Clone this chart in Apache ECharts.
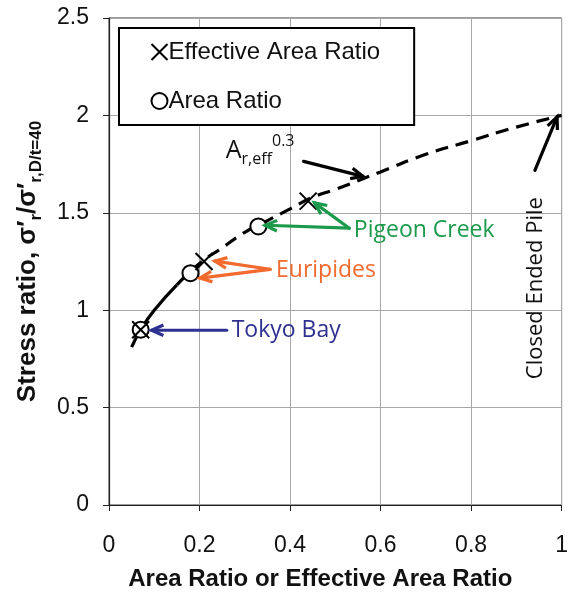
<!DOCTYPE html>
<html>
<head>
<meta charset="utf-8">
<script src="https://cdn.jsdelivr.net/npm/echarts@6/dist/echarts.min.js"></script>
<style>
  html, body { margin: 0; padding: 0; background: #fff; }
  #chart { width: 571px; height: 598px; }
</style>
</head>
<body>
<div id="chart"></div>
<script>
// Stress ratio curve (A_r,eff^0.3) read along its length
const curveSolidX = [0.05, 0.07, 0.10, 0.15];
const curveSolidY = [0.81, 0.90, 1.00, 1.13];
const curveDashX = [0.15, 0.20, 0.25, 0.30, 0.35, 0.40, 0.45, 0.50, 0.60, 0.70, 0.80, 0.90, 1.00];
const curveDashY = [1.13, 1.24, 1.32, 1.40, 1.46, 1.52, 1.58, 1.62, 1.71, 1.80, 1.87, 1.94, 2.00];

// Case histories: Tokyo Bay, Euripides, Pigeon Creek
const effAreaX = [0.07, 0.21, 0.44];
const effAreaY = [0.90, 1.25, 1.56];
const areaX = [0.07, 0.18, 0.33];
const areaY = [0.90, 1.19, 1.43];

// Axis ticks
const xTicks = [0, 0.2, 0.4, 0.6, 0.8, 1];
const yTicks = [0, 0.5, 1, 1.5, 2, 2.5];

// Callout arrows: [fromX, fromY, toX, toY, colour index]
const arrowColors = ['#2e3192', '#f26a2e', '#1b9a4b', '#000000'];
const arrows = [
  [0.260, 0.897, 0.094, 0.897, 0],
  [0.356, 1.210, 0.234, 1.252, 1],
  [0.356, 1.210, 0.201, 1.165, 1],
  [0.531, 1.421, 0.454, 1.551, 2],
  [0.531, 1.421, 0.345, 1.436, 2],
  [0.430, 1.764, 0.561, 1.687, 3],
  [0.941, 1.718, 0.990, 1.992, 3]
];

// Callout label anchors
const noteTokyo = [0.271, 0.897];
const noteEuripides = [0.369, 1.205];
const notePigeon = [0.541, 1.410];
const notePile = [0.942, 1.113];
const noteCurve = [0.258, 1.820];

const zip = (xs, ys) => xs.map((x, i) => [x, ys[i]]);
const calloutFont = '"Open Sans", sans-serif';
const sansFont = '"Liberation Sans", Arial, sans-serif';

const chart = echarts.init(document.getElementById('chart'), null, { renderer: 'canvas' });

function noteSeries(point, color, formatter, extra) {
  return Object.assign({
    type: 'scatter',
    data: [point],
    symbolSize: 0,
    silent: true,
    z: 5,
    itemStyle: { opacity: 1 },
    label: {
      show: true,
      position: 'right',
      distance: 0,
      color: color,
      fontFamily: calloutFont,
      fontSize: 23,
      formatter: formatter
    }
  }, extra || {});
}

chart.setOption({
  animation: false,
  backgroundColor: '#ffffff',
  grid: {
    left: 109, right: 5, top: 18, bottom: 93,
    show: true, borderColor: '#333', borderWidth: 1, backgroundColor: 'transparent'
  },
  legend: {
    data: ['Effective Area Ratio', 'Area Ratio'],
    orient: 'vertical',
    left: 119, top: 28,
    padding: [12, 34, 12, 30],
    itemGap: 25,
    itemWidth: 16, itemHeight: 16,
    borderColor: '#000', borderWidth: 2,
    backgroundColor: '#fff',
    selectedMode: false,
    textStyle: { fontFamily: sansFont, fontSize: 24, color: '#111', padding: [0, 0, 0, -4] }
  },
  xAxis: {
    type: 'value', min: 0, max: 1, interval: 0.2,
    name: 'Area Ratio or Effective Area Ratio',
    nameLocation: 'middle', nameGap: 62,
    nameTextStyle: { fontFamily: sansFont, fontSize: 24, fontWeight: 'bold', color: '#111', padding: [0, 30, 0, 0] },
    axisLine: { lineStyle: { color: '#222', width: 1.2 } },
    axisTick: { show: true, length: 6, lineStyle: { color: '#222' } },
    splitLine: { show: true, lineStyle: { color: '#a8a8a8', width: 1 } },
    axisLabel: {
      margin: 29, fontSize: 23, color: '#111', fontFamily: sansFont,
      customValues: xTicks,
      formatter: v => String(+v.toFixed(1))
    }
  },
  yAxis: {
    type: 'value', min: 0, max: 2.5, interval: 0.5,
    name: '{b|Stress ratio, σ\u2032}{s|r}{b|/σ\u2032}{s|r,D/t=40}',
    nameLocation: 'middle', nameRotate: 90, nameGap: 64,
    nameTextStyle: {
      rich: {
        b: { fontFamily: sansFont, fontSize: 26, fontWeight: 'bold', color: '#111', lineHeight: 35 },
        s: { fontFamily: sansFont, fontSize: 17, fontWeight: 'bold', color: '#111', lineHeight: 17, verticalAlign: 'bottom' }
      }
    },
    axisLine: { show: true, lineStyle: { color: '#222', width: 1.2 } },
    axisTick: { show: true, length: 6, lineStyle: { color: '#222' } },
    splitLine: { show: true, lineStyle: { color: '#a8a8a8', width: 1 } },
    axisLabel: {
      margin: 20, fontSize: 23, color: '#111', fontFamily: sansFont,
      customValues: yTicks,
      formatter: v => String(+v.toFixed(1))
    }
  },
  series: [
    {
      type: 'line', data: zip(curveSolidX, curveSolidY), smooth: true,
      showSymbol: false, silent: true, z: 2,
      lineStyle: { color: '#000', width: 3.2, type: 'solid' }
    },
    {
      type: 'line', data: zip(curveDashX, curveDashY), smooth: true,
      showSymbol: false, silent: true, z: 2,
      lineStyle: { color: '#000', width: 3.2, type: [13, 8] }
    },
    {
      name: 'Area Ratio', type: 'scatter', data: zip(areaX, areaY),
      symbol: 'circle', symbolSize: 16, z: 3,
      itemStyle: { color: '#fff', borderColor: '#000', borderWidth: 2, opacity: 1 }
    },
    {
      name: 'Effective Area Ratio', type: 'scatter', data: zip(effAreaX, effAreaY),
      symbol: 'path://M0,0L10,10M10,0L0,10', symbolSize: 17, z: 4,
      itemStyle: { color: 'none', borderColor: '#000', borderWidth: 2, opacity: 1 }
    },
    {
      type: 'custom', silent: true, z: 6,
      data: arrows,
      encode: { x: [0, 2], y: [1, 3] },
      renderItem: function (params, api) {
        const p0 = api.coord([api.value(0), api.value(1)]);
        const p1 = api.coord([api.value(2), api.value(3)]);
        const color = arrowColors[api.value(4)];
        const ang = Math.atan2(p1[1] - p0[1], p1[0] - p0[0]);
        const L = 13, a = 0.42;
        const h1 = [p1[0] - L * Math.cos(ang - a), p1[1] - L * Math.sin(ang - a)];
        const h2 = [p1[0] - L * Math.cos(ang + a), p1[1] - L * Math.sin(ang + a)];
        return {
          type: 'group',
          children: [
            { type: 'line', shape: { x1: p0[0], y1: p0[1], x2: p1[0], y2: p1[1] },
              style: { stroke: color, lineWidth: 3.2, lineCap: 'round' } },
            { type: 'polyline', shape: { points: [h1, p1, h2] },
              style: { stroke: color, lineWidth: 3.2, fill: null, lineJoin: 'miter' } }
          ]
        };
      }
    },
    noteSeries(noteTokyo, '#2e3192', 'Tokyo Bay'),
    noteSeries(noteEuripides, '#f26a2e', 'Euripides'),
    noteSeries(notePigeon, '#1b9a4b', 'Pigeon Creek'),
    noteSeries(notePile, '#111', 'Closed Ended Pile', {
      label: { show: true, position: 'inside', rotate: 90, color: '#111', fontFamily: calloutFont, fontSize: 22, formatter: 'Closed Ended Pile' }
    }),
    noteSeries(noteCurve, '#111', '{a|A}{sub|r,eff}{sup|0.3}', {
      label: {
        show: true, position: 'right', distance: 0, formatter: '{a|A}{sub|r,eff}{sup|0.3}',
        rich: {
          a: { fontFamily: calloutFont, fontSize: 25, color: '#111', lineHeight: 34 },
          sub: { fontFamily: calloutFont, fontSize: 16, color: '#111', lineHeight: 16, verticalAlign: 'bottom' },
          sup: { fontFamily: calloutFont, fontSize: 16, color: '#111', lineHeight: 16, verticalAlign: 'top' }
        }
      }
    })
  ]
});
</script>
</body>
</html>
